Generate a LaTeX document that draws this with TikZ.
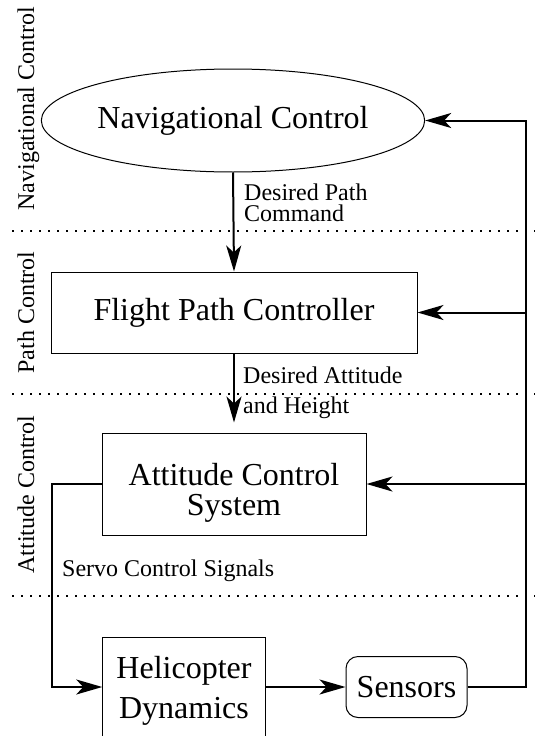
\documentclass[tikz,border=0pt]{standalone}
\usepackage{fontspec}
\setmainfont{Liberation Serif}
\usetikzlibrary{shapes.geometric,arrows.meta}
\tikzset{
  blk/.style={draw, line width=1pt, inner sep=0pt, font=\fontsize{32}{30}\selectfont},
  flow/.style={line width=2pt, -{Stealth[length=26pt,width=15pt,inset=7pt]}},
  lbl/.style={inner sep=0pt, font=\fontsize{24}{21}\selectfont},
  layer/.style={draw, line width=1.8pt, dash pattern=on 1.8pt off 7.2pt}
}
\newcommand{\myLayerName}[3]{
\node[lbl, rotate=90, anchor=base] (#1) at (34,#2) {#3};
}

\begin{document}
\begin{tikzpicture}[x=1pt, y=-1pt]
	\useasboundingbox (0,0) rectangle (535,736);

	% layers
	\draw[layer] (12,231) -- (535,231);
	\draw[layer] (12,394) -- (535,394);
	\draw[layer] (12,596) -- (535,596);
	\myLayerName{navlayer}{109}{Navigational Control}
	\myLayerName{pathlayer}{312.5}{Path Control}
	\myLayerName{attlayer}{494.5}{Attitude Control}

	% blocks
	\node[blk, ellipse, minimum width=364pt, minimum height=103pt] (nav) at (233,120.5) {Navigational Control};
	\node[blk, minimum width=366pt, minimum height=81pt] (fpc) at (234,312.5) {Flight Path Controller};
	\node[blk, align=center, minimum width=264pt, minimum height=102pt, text height=70pt, text depth=8pt] (acs) at (234,484) {Attitude Control\\System};
	\node[blk, align=center, anchor=north, minimum width=162.5pt, minimum height=120pt, text height=62pt, text depth=20pt, font=\fontsize{32}{40}\selectfont] (hel) at (184,637) {Helicopter\\Dynamics};
	\node[blk, rounded corners=12pt, minimum width=121pt, minimum height=61pt] (sen) at (406.5,687) {Sensors};

	\coordinate (fb) at (526,0);
	\coordinate (lp) at (52,0);

	% signals
	\draw[flow] (nav.south) -- (fpc.north);
	\draw[flow, shorten >=10pt] (fpc.south) -- (acs.north);
	\draw[flow] (acs.west) -| (lp |- sen.west) -- (sen.west -| hel.west);
	\draw[flow] (sen.west -| hel.east) -- (sen.west);
	\draw[flow] (sen.east) -| (fb |- nav.east) -- (nav.east);
	\draw[flow] (fb |- fpc.east) -- (fpc.east);
	\draw[flow] (fb |- acs.east) -- (acs.east);

	\node[lbl, align=left, anchor=base west] (pathcmd) at (244,221) {Desired Path\\Command};
	\node[lbl, align=left, anchor=base west, font=\fontsize{24}{30}\selectfont] (attcmd) at (243,413) {Desired Attitude\\and Height};
	\node[lbl, anchor=base west] (servo) at (62,576) {Servo Control Signals};
\end{tikzpicture}
\end{document}
